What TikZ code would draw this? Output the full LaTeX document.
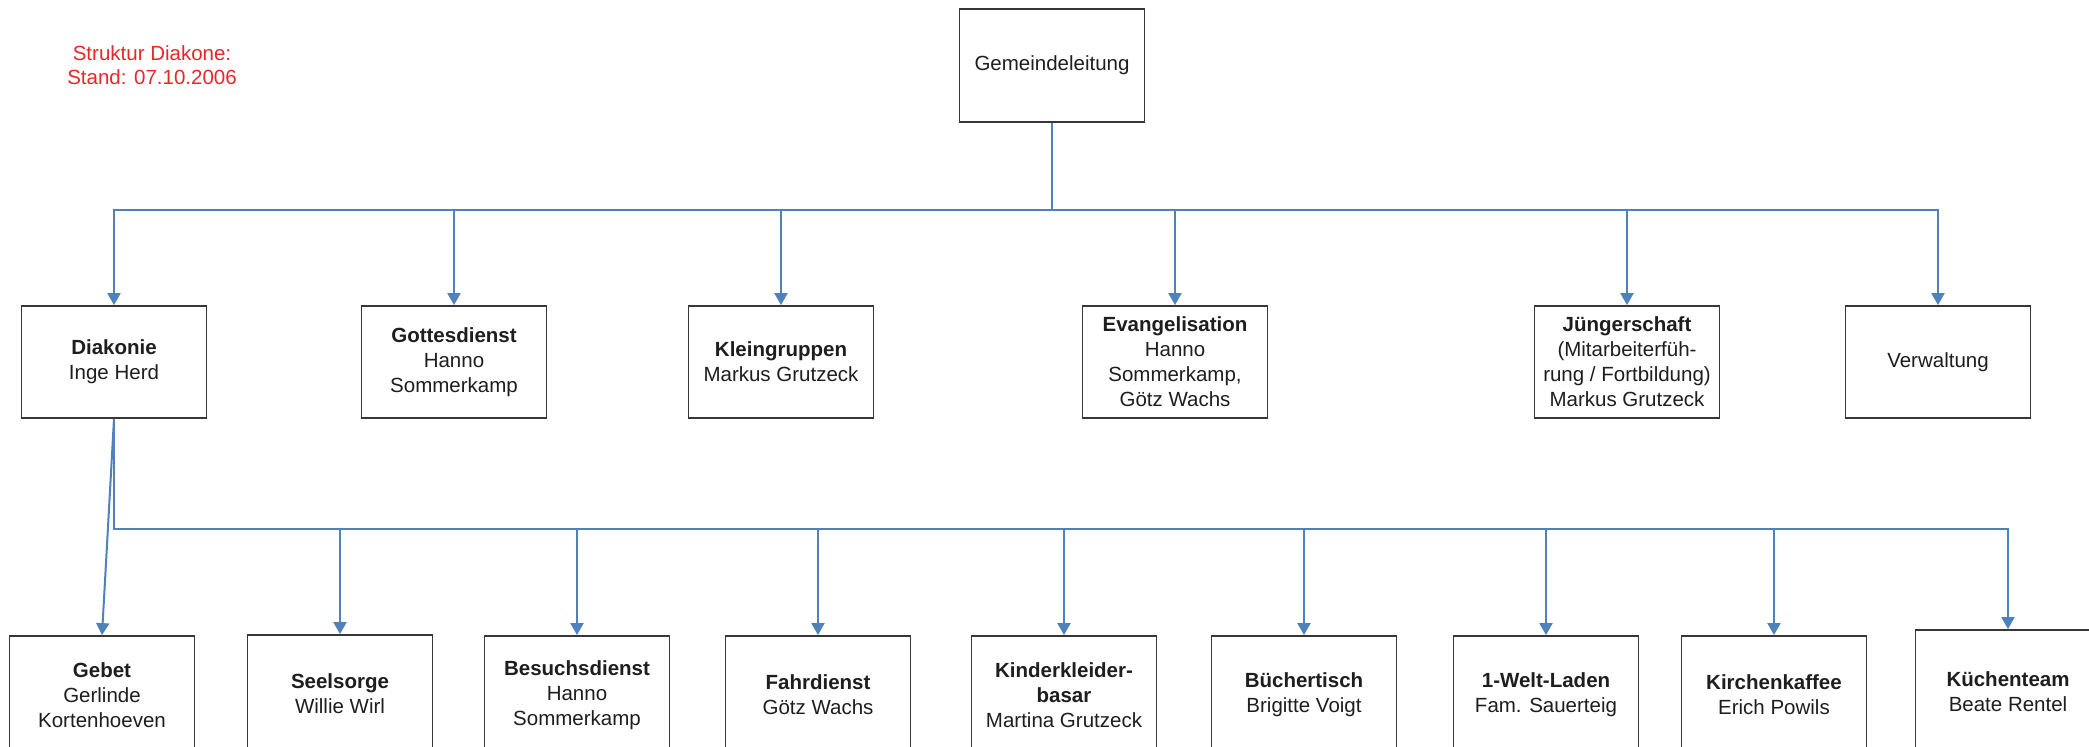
\documentclass[tikz,border=0pt]{standalone}
\usepackage{fontspec}
\setmainfont{Liberation Sans}
\usetikzlibrary{arrows.meta}
\definecolor{lineblue}{RGB}{79,129,189}
\definecolor{boxgray}{RGB}{55,55,55}
\definecolor{txtgray}{RGB}{30,30,30}
\definecolor{redtxt}{RGB}{232,40,40}
\begin{document}
\begin{tikzpicture}[x=1pt,y=1pt,
  box/.style={draw=boxgray, line width=1.8pt, fill=white, minimum width=185pt,
    minimum height=112pt, inner sep=0pt, align=center, text=txtgray,
    font=\fontsize{20.5}{25}\selectfont},
  conn/.style={draw=lineblue, line width=2pt, -{Triangle[width=13pt,length=12pt]}},
  note/.style={align=center, text=redtxt, font=\fontsize{20.5}{24}\selectfont}]
\useasboundingbox (0,0) rectangle (2089,-747);
\clip (0,0) rectangle (2089,-747);
\fill[white] (0,0) rectangle (2089,-747);

\node[note] (title) at (152,-65) {Struktur Diakone:\\Stand: 07.10.2006};

\node[box, minimum height=113pt] (gem) at (1052,-65.5) {Gemeindeleitung};

\coordinate (bus1) at (0,-210);
\coordinate (bus2) at (0,-529);

% level 2
\node[box] (dia) at (114,-362) {\textbf{Diakonie}\\Inge Herd};
\node[box] (got) at (454,-362) {\textbf{Gottesdienst}\\Hanno\\Sommerkamp};
\node[box] (kle) at (781,-362) {\textbf{Kleingruppen}\\Markus Grutzeck};
\node[box] (eva) at (1175,-362) {\textbf{Evangelisation}\\Hanno\\Sommerkamp,\\Götz Wachs};
\node[box] (jue) at (1627,-362) {\textbf{Jüngerschaft}\\(Mitarbeiterfüh-\\rung / Fortbildung)\\Markus Grutzeck};
\node[box] (ver) at (1938,-362) {Verwaltung};

% level 3
\node[box, minimum height=118pt] (geb) at (102,-695) {\textbf{Gebet}\\Gerlinde\\Kortenhoeven};
\node[box, minimum height=118pt] (see) at (340,-694) {\textbf{Seelsorge}\\Willie Wirl};
\node[box, minimum height=118pt] (bes) at (577,-695) {\textbf{Besuchsdienst}\\Hanno\\Sommerkamp};
\node[box, minimum height=118pt] (fah) at (818,-695) {\textbf{Fahrdienst}\\Götz Wachs};
\node[box, minimum height=118pt] (kin) at (1064,-695) {\textbf{Kinderkleider-}\\\textbf{basar}\\Martina Grutzeck};
\node[box, minimum height=118pt] (bue) at (1304,-695) {\textbf{Büchertisch}\\Brigitte Voigt};
\node[box, minimum height=118pt] (wel) at (1546,-695) {\textbf{1-Welt-Laden}\\Fam. Sauerteig};
\node[box, minimum height=118pt] (kir) at (1774,-695) {\textbf{Kirchenkaffee}\\Erich Powils};
\node[box, minimum height=124pt] (kue) at (2008,-692) {\textbf{Küchenteam}\\Beate Rentel};

% connectors level 1 -> 2
\foreach \c in {dia,got,kle,eva,jue,ver}
  \draw[conn] (gem.south) -- (gem.south |- bus1) -| (\c.north);

% connectors Diakonie -> level 3
\draw[conn] (dia.south) -- (geb.north);
\foreach \c in {see,bes,fah,kin,bue,wel,kir,kue}
  \draw[conn] (dia.south) -- (dia.south |- bus2) -| (\c.north);
\end{tikzpicture}
\end{document}
